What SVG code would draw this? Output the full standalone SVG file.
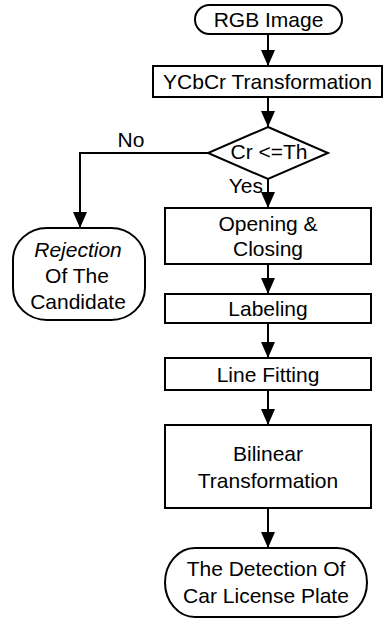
<svg xmlns="http://www.w3.org/2000/svg" width="389" height="622" viewBox="0 0 389 622">
<defs>
<style>
.s{fill:#fff;stroke:#000;stroke-width:2}
.t{font-family:"Liberation Sans",Arial,sans-serif;font-size:21px;fill:#000;text-anchor:middle}
.c{fill:none;stroke:#000;stroke-width:2}
</style>
<marker id="ah" viewBox="0 0 16 14" refX="16" refY="7" markerWidth="16" markerHeight="14" markerUnits="userSpaceOnUse" orient="auto">
<path d="M0,0 L16,7 L0,14 Z" fill="#000"/>
</marker>
</defs>
<rect width="389" height="622" fill="#fff"/>
<g id="connectors">
<path class="c" d="M268,34 V66" marker-end="url(#ah)"/>
<path class="c" d="M268,97 V127" marker-end="url(#ah)"/>
<path class="c" d="M208,153 H80 V228" marker-end="url(#ah)"/>
<path class="c" d="M268,179 V208" marker-end="url(#ah)"/>
<path class="c" d="M268,264 V294" marker-end="url(#ah)"/>
<path class="c" d="M268,323 V358" marker-end="url(#ah)"/>
<path class="c" d="M268,390 V425" marker-end="url(#ah)"/>
<path class="c" d="M268,508 V548" marker-end="url(#ah)"/>
<text class="t" x="131" y="147">No</text>
<text class="t" x="263" y="193" style="text-anchor:end">Yes</text>
</g>
<g id="rgb">
<rect class="s" x="195" y="5" width="147" height="29" rx="14.5" ry="14.5"/>
<text class="t" x="268.5" y="27">RGB Image</text>
</g>
<g id="ycbcr">
<rect class="s" x="153" y="66" width="229" height="31"/>
<text class="t" x="267.5" y="89">YCbCr Transformation</text>
</g>
<g id="decision">
<polygon class="s" points="268,127 328,153 268,179 208,153"/>
<text class="t" x="269" y="159">Cr &lt;=Th</text>
</g>
<g id="rejection">
<rect class="s" x="13" y="228" width="132" height="92" rx="34" ry="32"/>
<text class="t" x="78" y="257" font-style="italic">Rejection</text>
<text class="t" x="77" y="283">Of The</text>
<text class="t" x="78" y="309">Candidate</text>
</g>
<g id="opening">
<rect class="s" x="165" y="208" width="206" height="56"/>
<text class="t" x="268" y="231">Opening &amp;</text>
<text class="t" x="268" y="256">Closing</text>
</g>
<g id="labeling">
<rect class="s" x="165" y="294" width="206" height="29"/>
<text class="t" x="268" y="316">Labeling</text>
</g>
<g id="linefitting">
<rect class="s" x="165" y="358" width="206" height="32"/>
<text class="t" x="268" y="382">Line Fitting</text>
</g>
<g id="bilinear">
<rect class="s" x="165" y="425" width="206" height="83"/>
<text class="t" x="268" y="461">Bilinear</text>
<text class="t" x="268" y="488">Transformation</text>
</g>
<g id="detection">
<rect class="s" x="165" y="548" width="202" height="69" rx="30" ry="34.5"/>
<text class="t" x="266" y="576">The Detection Of</text>
<text class="t" x="266" y="603">Car License Plate</text>
</g>
</svg>
